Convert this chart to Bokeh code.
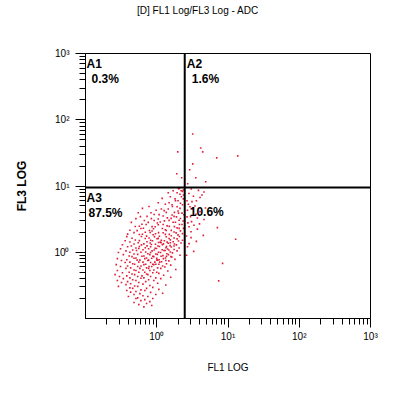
from bokeh.plotting import figure
from bokeh.models import FixedTicker, CustomJSTickFormatter, Span, Label, Div
from bokeh.layouts import column
from bokeh.embed import file_html
from bokeh.resources import INLINE

title_text = "[D] FL1 Log/FL3 Log - ADC"
x_label = "FL1 LOG"
y_label = "FL3 LOG"

# gates
gate_fl1 = 2.47
gate_fl3 = 9.5

# quadrant names and percentages
quad_names = ["A1", "A2", "A3"]
quad_pct = ["0.3%", "1.6%", "87.5%", "10.6%"]

major_ticks = [1, 10, 100, 1000]
minor_ticks = [0.2, 0.3, 0.4, 0.5, 0.6, 0.7, 0.8, 0.9,
               2, 3, 4, 5, 6, 7, 8, 9,
               20, 30, 40, 50, 60, 70, 80, 90,
               200, 300, 400, 500, 600, 700, 800, 900]

# events, read band by band (FL1 values and the matching FL3 values)
fl1_rows = [
    [2.08, 2.36],
    [1.70, 2.02, 2.30, 3.05, 3.85],
    [1.45, 2.20, 4.60],
    [1.93, 2.37, 2.83],
    [1.55, 2.12, 3.27, 4.31],
    [1.81, 2.22, 4.05],
    [1.19, 1.99, 2.36, 2.66],
    [1.49, 1.83, 3.12, 3.60],
    [1.05, 1.64, 2.15, 2.78],
    [0.78, 1.32, 1.93, 2.30, 3.44],
    [1.16, 1.66, 2.12, 2.93, 4.82],
    [0.63, 0.98, 1.45, 1.99, 3.17],
    [0.83, 1.27, 1.77, 2.26, 2.70, 4.05],
    [0.55, 1.08, 1.36, 1.64, 2.02, 3.55],
    [0.73, 0.92, 1.23, 1.89, 2.41, 2.98, 5.5],
    [0.59, 0.84, 1.41, 1.75, 2.15, 2.66, 3.72],
    [0.51, 0.67, 1.05, 1.28, 1.59, 2.06, 4.6],
    [0.76, 0.92, 1.12, 1.49, 1.83, 2.34, 3.08],
    [0.44, 0.62, 1.02, 1.23, 1.70, 2.08, 2.74, 3.98],
    [0.57, 0.71, 0.86, 1.05, 1.40, 1.77, 2.26, 3.33],
    [0.50, 0.65, 0.95, 1.20, 1.50, 1.93, 2.37, 2.84, 7.1],
    [0.42, 0.60, 0.79, 0.90, 1.32, 1.60, 2.06, 3.72],
    [0.53, 0.69, 0.86, 1.06, 1.36, 1.75, 2.15, 3.03],
    [0.39, 0.48, 0.63, 0.81, 0.96, 1.23, 1.50, 1.87, 2.30],
    [0.57, 0.72, 0.89, 1.09, 1.32, 1.60, 1.99, 2.62, 4.5],
    [0.38, 0.45, 0.61, 0.78, 0.93, 1.05, 1.36, 1.75, 2.08, 3.03],
    [0.50, 0.69, 0.82, 1.01, 1.16, 1.49, 1.55, 1.93, 2.30, 12.8],
    [0.36, 0.42, 0.57, 0.73, 0.87, 1.12, 1.28, 1.70, 2.02, 3.6],
    [1.06, 1.40, 1.55],
    [0.48, 0.55, 0.66, 0.81, 0.96, 1.15, 1.24, 1.45, 1.77, 2.19, 2.84],
    [0.33, 0.44, 0.61, 0.73, 0.84, 1.04, 1.20, 1.54, 1.89],
    [1.37, 1.75],
    [0.39, 0.51, 0.57, 0.69, 0.82, 0.95, 1.09, 1.35, 1.60, 2.06, 2.70],
    [0.31, 0.46, 0.56, 0.64, 0.77, 0.92, 0.99, 1.19, 1.42, 1.75],
    [1.31, 1.48],
    [0.37, 0.42, 0.52, 0.70, 0.86, 1.06, 1.26, 1.55, 1.93, 3.3],
    [0.29, 0.48, 0.60, 0.75, 0.82, 0.97, 1.13, 1.39, 1.66],
    [0.34, 0.41, 0.54, 0.66, 0.80, 0.88, 1.02, 1.22, 1.46, 2.12, 2.62],
    [1.37, 1.58],
    [0.45, 0.51, 0.62, 0.72, 0.91, 1.00, 1.15, 1.33, 1.63],
    [0.28, 0.38, 0.48, 0.58, 0.68, 0.77, 0.85, 1.08, 1.24, 1.80],
    [1.00, 1.34],
    [0.32, 0.42, 0.53, 0.64, 0.75, 0.94, 1.03, 1.17, 1.48],
    [0.36, 0.46, 0.56, 0.70, 0.82, 0.88, 1.10, 1.37, 8.4],
    [1.07, 0.91],
    [0.27, 0.39, 0.49, 0.60, 0.66, 0.78, 0.97, 1.21, 1.57],
    [0.31, 0.43, 0.54, 0.72, 0.85, 1.03, 1.30],
    [0.37, 0.48, 0.58, 0.64, 0.77, 0.91, 1.14, 1.85],
    [0.28, 0.41, 0.51, 0.68, 0.80, 1.00, 1.43],
    [0.33, 0.45, 0.56, 0.72, 0.88, 1.07],
    [0.26, 0.38, 0.49, 0.62, 0.75, 1.25],
    [0.30, 0.42, 0.54, 0.66, 0.82, 0.97, 1.57],
    [0.34, 0.46, 0.60, 0.77, 1.14],
    [0.28, 0.39, 0.51, 0.70, 0.91, 7.4],
    [0.32, 0.43, 0.56, 1.03],
    [0.37, 0.49, 0.64, 0.80, 1.34],
    [0.29, 0.42, 0.54, 0.88],
    [0.46, 0.60, 0.72, 1.07],
    [0.38, 0.51, 0.68],
    [0.43, 0.58, 0.82, 1.21],
    [0.48, 0.64, 0.97],
    [0.40, 0.54, 0.75],
    [0.51, 0.68, 0.88],
    [0.60, 0.80],
    [0.48, 0.72],
    [0.56, 0.85],
    [0.66],
    [3.20, 4.14, 4.42, 1.97, 13.7, 6.94, 3.20, 2.90, 1.91, 3.53, 2.24, 4.87, 2.72],
]
fl3_rows = [
    [9.2, 8.7],
    [8.5, 9.1, 8.3, 9.0, 8.6],
    [7.9, 8.5, 8.1],
    [7.9, 7.3, 7.7],
    [6.9, 7.5, 7.0, 7.3],
    [6.4, 6.9, 6.7],
    [6.5, 6.0, 6.4, 6.0],
    [5.6, 6.0, 5.8, 6.0],
    [5.6, 5.2, 5.5, 5.3],
    [4.9, 5.3, 4.85, 5.2, 5.0],
    [4.5, 4.9, 4.6, 4.85, 4.65],
    [4.6, 4.3, 4.5, 4.2, 4.45],
    [3.95, 4.25, 4.0, 3.9, 4.3, 4.1],
    [3.95, 3.7, 4.0, 3.65, 3.9, 3.75],
    [3.48, 3.72, 3.52, 3.42, 3.68, 3.45, 3.62],
    [3.45, 3.22, 3.3, 3.48, 3.24, 3.42, 3.28],
    [3.22, 3.02, 3.18, 2.98, 3.25, 3.04, 3.12],
    [2.82, 3.02, 2.86, 3.03, 2.84, 2.97, 2.9],
    [2.82, 2.64, 2.77, 2.62, 2.83, 2.63, 2.78, 2.68],
    [2.47, 2.62, 2.44, 2.6, 2.5, 2.44, 2.63, 2.55],
    [2.45, 2.3, 2.42, 2.28, 2.46, 2.33, 2.29, 2.43, 2.35],
    [2.15, 2.28, 2.13, 2.26, 2.19, 2.14, 2.29, 2.23],
    [2.12, 2.0, 2.09, 1.98, 2.13, 2.02, 2.1, 2.04],
    [1.88, 1.98, 1.87, 1.99, 1.9, 1.97, 1.86, 1.96, 1.91],
    [1.85, 1.75, 1.84, 1.74, 1.86, 1.77, 1.83, 1.76, 1.8],
    [1.72, 1.63, 1.73, 1.64, 1.72, 1.62, 1.71, 1.64, 1.73, 1.66],
    [1.53, 1.61, 1.52, 1.6, 1.51, 1.61, 1.54, 1.59, 1.52, 1.57],
    [1.49, 1.43, 1.5, 1.44, 1.49, 1.42, 1.49, 1.44, 1.48, 1.46],
    [1.40, 1.42, 1.39],
    [1.33, 1.39, 1.34, 1.38, 1.32, 1.39, 1.34, 1.37, 1.33, 1.38, 1.35],
    [1.3, 1.24, 1.29, 1.25, 1.31, 1.24, 1.3, 1.26, 1.29],
    [1.22, 1.24],
    [1.21, 1.16, 1.22, 1.17, 1.21, 1.15, 1.22, 1.17, 1.2, 1.16, 1.21],
    [1.13, 1.08, 1.14, 1.09, 1.13, 1.08, 1.14, 1.09, 1.12, 1.1],
    [1.06, 1.08],
    [1.05, 1.0, 1.06, 1.01, 1.05, 1.0, 1.06, 1.01, 1.05, 1.03],
    [0.99, 0.94, 1.0, 0.95, 0.99, 0.94, 0.99, 0.95, 0.98],
    [0.92, 0.88, 0.93, 0.88, 0.92, 0.87, 0.93, 0.89, 0.92, 0.9, 0.9],
    [0.87, 0.86],
    [0.86, 0.82, 0.87, 0.82, 0.86, 0.81, 0.87, 0.82, 0.85],
    [0.8, 0.77, 0.81, 0.76, 0.8, 0.76, 0.81, 0.77, 0.8, 0.78],
    [0.76, 0.75],
    [0.75, 0.71, 0.76, 0.71, 0.75, 0.71, 0.76, 0.72, 0.74],
    [0.70, 0.67, 0.71, 0.66, 0.70, 0.66, 0.71, 0.67, 0.68],
    [0.66, 0.65],
    [0.65, 0.62, 0.66, 0.62, 0.65, 0.61, 0.66, 0.62, 0.64],
    [0.61, 0.58, 0.61, 0.58, 0.61, 0.58, 0.6],
    [0.57, 0.54, 0.57, 0.54, 0.57, 0.54, 0.57, 0.55],
    [0.53, 0.5, 0.53, 0.5, 0.53, 0.5, 0.52],
    [0.49, 0.47, 0.5, 0.47, 0.49, 0.48],
    [0.46, 0.44, 0.46, 0.44, 0.46, 0.45],
    [0.43, 0.41, 0.43, 0.41, 0.43, 0.41, 0.42],
    [0.40, 0.385, 0.405, 0.385, 0.40],
    [0.375, 0.36, 0.375, 0.36, 0.375, 0.37],
    [0.35, 0.335, 0.35, 0.34],
    [0.325, 0.31, 0.33, 0.315, 0.32],
    [0.305, 0.29, 0.305, 0.295],
    [0.285, 0.27, 0.285, 0.275],
    [0.265, 0.255, 0.265],
    [0.25, 0.237, 0.248, 0.24],
    [0.23, 0.22, 0.23],
    [0.215, 0.205, 0.215],
    [0.2, 0.193, 0.2],
    [0.186, 0.18],
    [0.174, 0.168],
    [0.162, 0.157],
    [0.15],
    [60.8, 37.5, 32.7, 32.7, 28.5, 26.6, 21.6, 17.6, 15.3, 13.3, 13.3, 11.6, 10.8],
]

fl1 = [x for row in fl1_rows for x in row]
fl3 = [y for row in fl3_rows for y in row]

FONT = "Liberation Sans"

header = Div(text=title_text, width=384, height=22, margin=0,
             styles={"font-family": FONT, "font-size": "10px", "color": "black",
                     "line-height": "22px", "padding-left": "137px",
                     "white-space": "nowrap"})

p = figure(width=384, height=362, x_axis_type="log", y_axis_type="log",
           x_range=(0.1, 1000), y_range=(0.1, 1000),
           output_backend="svg", toolbar_location=None,
           min_border_left=85, min_border_right=14,
           min_border_top=31, min_border_bottom=66, margin=0)
p.background_fill_color = "white"
p.border_fill_color = "white"
p.outline_line_color = "black"
p.outline_line_width = 1
p.xgrid.visible = False
p.ygrid.visible = False

fmt = CustomJSTickFormatter(code="""
const sup = {"0": "\u2070", "1": "\u00b9", "2": "\u00b2", "3": "\u00b3"};
const e = Math.round(Math.log10(tick));
return "10" + sup[String(e)];
""")

for ax in (p.xaxis[0], p.yaxis[0]):
    ax.ticker = FixedTicker(ticks=major_ticks, minor_ticks=minor_ticks)
    ax.formatter = fmt
    ax.axis_line_color = "black"
    ax.major_tick_line_color = "black"
    ax.minor_tick_line_color = "black"
    ax.major_tick_in = 0
    ax.minor_tick_in = 0
    ax.major_label_text_font = FONT
    ax.major_label_text_font_size = "10px"
    ax.major_label_text_color = "black"
    ax.axis_label_text_font = FONT
    ax.axis_label_text_color = "black"

p.xaxis.axis_label = x_label
p.xaxis.major_tick_out = 9
p.xaxis.minor_tick_out = 6
p.xaxis.major_label_standoff = 3
p.xaxis.axis_label_standoff = 17
p.xaxis.axis_label_text_font_size = "10px"
p.xaxis.axis_label_text_font_style = "normal"

p.yaxis.axis_label = y_label
p.yaxis.major_tick_out = 10
p.yaxis.minor_tick_out = 6
p.yaxis.major_label_standoff = 6
p.yaxis.axis_label_standoff = 22
p.yaxis.axis_label_text_font_size = "12px"
p.yaxis.axis_label_text_font_style = "bold"

p.scatter(fl1, fl3, marker="square", size=1.6, fill_color="#e0102c",
          line_color=None, fill_alpha=0.95)

p.add_layout(Span(location=gate_fl1, dimension="height", line_color="black", line_width=2))
p.add_layout(Span(location=gate_fl3, dimension="width", line_color="black", line_width=2))

x0, y1 = 0.1, 1000
lab_kw = dict(text_font=FONT, text_font_size="12px", text_font_style="bold",
              text_color="black", text_baseline="top", text_align="left")
p.add_layout(Label(x=x0, y=y1, x_offset=1, y_offset=-3, text=quad_names[0], **lab_kw))
p.add_layout(Label(x=x0, y=y1, x_offset=6, y_offset=-18, text=quad_pct[0], **lab_kw))
p.add_layout(Label(x=gate_fl1, y=y1, x_offset=2, y_offset=-3, text=quad_names[1], **lab_kw))
p.add_layout(Label(x=gate_fl1, y=y1, x_offset=7, y_offset=-18, text=quad_pct[1], **lab_kw))
p.add_layout(Label(x=x0, y=gate_fl3, x_offset=1, y_offset=-4, text=quad_names[2], **lab_kw))
p.add_layout(Label(x=x0, y=gate_fl3, x_offset=3, y_offset=-19, text=quad_pct[2], **lab_kw))
p.add_layout(Label(x=gate_fl1, y=gate_fl3, x_offset=5, y_offset=-18, text=quad_pct[3], **lab_kw))

page = column(header, p, spacing=0, margin=0)

open("out.html", "w", encoding="utf-8").write(file_html(page, INLINE))
